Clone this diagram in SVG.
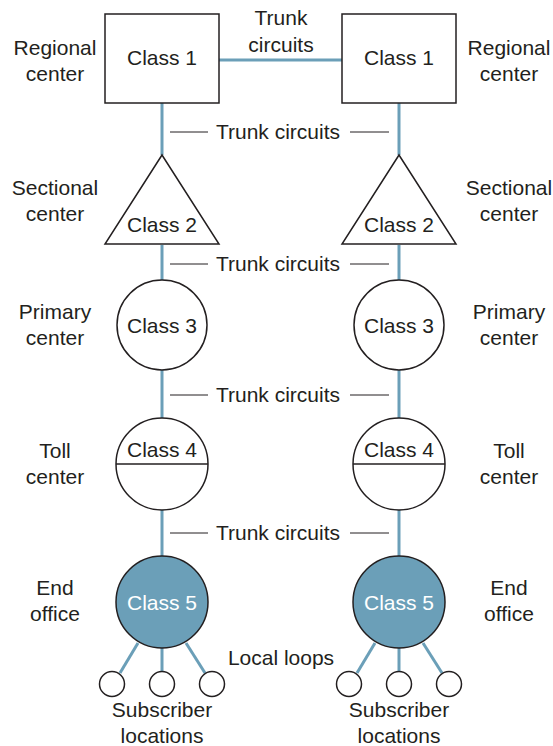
<svg xmlns="http://www.w3.org/2000/svg" width="553" height="746" viewBox="0 0 553 746">
<style>
text{font-family:"Liberation Sans",Arial,sans-serif;font-size:21px;fill:#231f20;text-anchor:middle}
.w{fill:#ffffff}
.node{fill:#ffffff;stroke:#231f20;stroke-width:1.5}
.c5{fill:#6b9fb8;stroke:#231f20;stroke-width:1.5}
.link{stroke:#6b9fb8;stroke-width:3;fill:none}
.tick{stroke:#231f20;stroke-width:1;fill:none}
</style>
<rect width="553" height="746" fill="#ffffff"/>
<g id="connectors">
<line class="link" x1="219" y1="60" x2="342" y2="60"/>
<line class="link" x1="162" y1="103" x2="162" y2="155"/>
<line class="link" x1="162" y1="245" x2="162" y2="280"/>
<line class="link" x1="162" y1="370" x2="162" y2="418"/>
<line class="link" x1="162" y1="510" x2="162" y2="557"/>
<line class="link" x1="399" y1="103" x2="399" y2="155"/>
<line class="link" x1="399" y1="245" x2="399" y2="280"/>
<line class="link" x1="399" y1="370" x2="399" y2="418"/>
<line class="link" x1="399" y1="510" x2="399" y2="557"/>
<line class="link" x1="138" y1="643" x2="120" y2="673"/>
<line class="link" x1="162" y1="648" x2="162" y2="671"/>
<line class="link" x1="186" y1="643" x2="205" y2="673"/>
<line class="link" x1="375" y1="643" x2="357" y2="673"/>
<line class="link" x1="399" y1="648" x2="399" y2="671"/>
<line class="link" x1="423" y1="643" x2="442" y2="673"/>
</g>
<g id="trunk-labels">
<text x="281" y="25">Trunk</text>
<text x="281" y="52">circuits</text>
<g id="trunk-1">
<line class="tick" x1="170" y1="132" x2="208" y2="132"/><line class="tick" x1="350" y1="132" x2="389" y2="132"/>
<text x="278" y="139">Trunk circuits</text></g>
<g id="trunk-2">
<line class="tick" x1="170" y1="264" x2="208" y2="264"/><line class="tick" x1="350" y1="264" x2="389" y2="264"/>
<text x="278" y="271">Trunk circuits</text></g>
<g id="trunk-3">
<line class="tick" x1="170" y1="395" x2="208" y2="395"/><line class="tick" x1="350" y1="395" x2="389" y2="395"/>
<text x="278" y="402">Trunk circuits</text></g>
<g id="trunk-4">
<line class="tick" x1="170" y1="533" x2="208" y2="533"/><line class="tick" x1="350" y1="533" x2="389" y2="533"/>
<text x="278" y="540">Trunk circuits</text></g>
</g>
<g id="L-class1"><rect class="node" x="105" y="14" width="114" height="89"/><text x="162" y="65">Class 1</text></g>
<g id="R-class1"><rect class="node" x="342" y="14" width="114" height="89"/><text x="399" y="65">Class 1</text></g>
<g id="L-class2"><polygon class="node" points="162,155 219,244 105,244"/><text x="162" y="232">Class 2</text></g>
<g id="R-class2"><polygon class="node" points="399,155 456,244 342,244"/><text x="399" y="232">Class 2</text></g>
<g id="L-class3"><circle class="node" cx="162" cy="325" r="45"/><text x="162" y="333">Class 3</text></g>
<g id="R-class3"><circle class="node" cx="399" cy="325" r="45"/><text x="399" y="333">Class 3</text></g>
<g id="L-class4"><circle class="node" cx="162" cy="464" r="46"/><line class="node" x1="116" y1="464" x2="208" y2="464"/><text x="162" y="457">Class 4</text></g>
<g id="R-class4"><circle class="node" cx="399" cy="464" r="46"/><line class="node" x1="353" y1="464" x2="445" y2="464"/><text x="399" y="457">Class 4</text></g>
<g id="L-class5"><circle class="c5" cx="162" cy="602" r="46"/><text class="w" x="162" y="610">Class 5</text></g>
<g id="R-class5"><circle class="c5" cx="399" cy="602" r="46"/><text class="w" x="399" y="610">Class 5</text></g>
<g id="L-subs">
<circle class="node" cx="112" cy="684" r="12.5"/><circle class="node" cx="162" cy="684" r="12.5"/><circle class="node" cx="212" cy="684" r="12.5"/>
<text x="162" y="717">Subscriber</text><text x="162" y="743">locations</text></g>
<g id="R-subs">
<circle class="node" cx="349" cy="684" r="12.5"/><circle class="node" cx="399" cy="684" r="12.5"/><circle class="node" cx="449" cy="684" r="12.5"/>
<text x="399" y="717">Subscriber</text><text x="399" y="743">locations</text></g>
<text x="281" y="665">Local loops</text>
<g id="left-labels">
<text x="55" y="55">Regional</text><text x="55" y="81">center</text>
<text x="55" y="195">Sectional</text><text x="55" y="221">center</text>
<text x="55" y="319">Primary</text><text x="55" y="345">center</text>
<text x="55" y="458">Toll</text><text x="55" y="484">center</text>
<text x="55" y="595">End</text><text x="55" y="621">office</text>
</g>
<g id="right-labels">
<text x="509" y="55">Regional</text><text x="509" y="81">center</text>
<text x="509" y="195">Sectional</text><text x="509" y="221">center</text>
<text x="509" y="319">Primary</text><text x="509" y="345">center</text>
<text x="509" y="458">Toll</text><text x="509" y="484">center</text>
<text x="509" y="595">End</text><text x="509" y="621">office</text>
</g>
</svg>
